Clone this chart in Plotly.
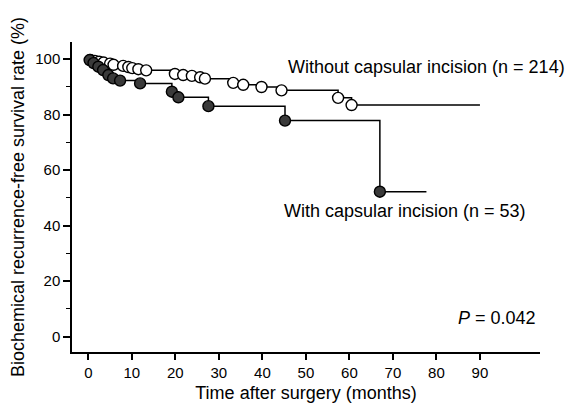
import plotly.graph_objects as go

# Without capsular incision (n = 214): event times (months) and survival (%)
open_t = [0.5, 1.5, 2.5, 3.5, 5.0, 5.8, 8.0, 9.2, 10.1, 11.5, 13.3,
          19.9, 21.8, 23.8, 25.7, 26.8, 33.3, 35.6, 39.8, 44.4, 57.4, 60.5]
open_v = [99.6, 99.3, 99.0, 98.7, 98.3, 97.9, 97.5, 97.1, 96.7, 96.3, 95.9,
          94.6, 94.2, 93.9, 93.4, 92.9, 91.4, 90.7, 89.9, 88.7, 86.0, 83.4]
open_end = 90.0

# With capsular incision (n = 53)
fill_t = [0.3, 1.2, 2.3, 3.4, 4.6, 5.7, 7.3, 11.9, 19.2, 20.7, 27.6, 45.2, 67.0]
fill_v = [99.6, 98.5, 97.2, 96.0, 94.2, 93.0, 92.2, 91.2, 88.2, 86.2, 83.0, 77.8, 52.2]
fill_end = 77.7

x_ticks = [0, 10, 20, 30, 40, 50, 60, 70, 80, 90]
y_ticks = [0, 20, 40, 60, 80, 100]

FONT = "Liberation Sans, Arial, sans-serif"

fig = go.Figure()

def add_curve(t, v, end, filled):
    xs = [0] + t + [end]
    ys = [100] + v + [v[-1]]
    fig.add_trace(go.Scatter(x=xs, y=ys, mode="lines", line_shape="hv",
                             line=dict(color="black", width=1.5),
                             hoverinfo="skip", showlegend=False))
    fig.add_trace(go.Scatter(
        x=t, y=v, mode="markers", showlegend=False,
        marker=dict(size=11, symbol="circle",
                    color="#3a3a3a" if filled else "white",
                    line=dict(color="black", width=1.4))))

add_curve(open_t, open_v, open_end, False)
add_curve(fill_t, fill_v, fill_end, True)

fig.add_annotation(x=45.4, y=97.1, xref="x", yref="y", xanchor="left",
                   yanchor="middle", showarrow=False,
                   text="Without capsular incision (n = 214)",
                   font=dict(size=18, color="black", family=FONT))
fig.add_annotation(x=44.4, y=45.3, xref="x", yref="y", xanchor="left",
                   yanchor="middle", showarrow=False,
                   text="With capsular incision (n = 53)",
                   font=dict(size=18, color="black", family=FONT))
fig.add_annotation(x=84.6, y=6.7, xref="x", yref="y", xanchor="left",
                   yanchor="middle", showarrow=False,
                   text="<i>P</i> = 0.042",
                   font=dict(size=18, color="black", family=FONT))

fig.update_layout(
    width=568, height=406,
    margin=dict(l=72, r=28, t=42, b=54),
    paper_bgcolor="white", plot_bgcolor="white",
    font=dict(family=FONT, color="black"),
)
fig.update_xaxes(range=[-3.75, 103.8], tickvals=x_ticks,
                 ticktext=[str(v) for v in x_ticks], automargin=False,
                 showgrid=False, zeroline=False, showline=True,
                 linecolor="black", linewidth=1.5, ticks="outside",
                 ticklen=6, tickwidth=1.5, tickcolor="black",
                 tickfont=dict(size=15, family=FONT),
                 title=dict(text="Time after surgery (months)",
                            font=dict(size=18, family=FONT), standoff=7))
fig.update_yaxes(range=[-5.5, 106.1], tickvals=y_ticks, automargin=False,
                 showgrid=False, zeroline=False, showline=True,
                 linecolor="black", linewidth=1.5, ticks="outside",
                 ticklen=7, tickwidth=1.5, tickcolor="black",
                 tickfont=dict(size=15, family=FONT),
                 minor=dict(tickvals=[10, 30, 50, 70, 90], ticks="outside",
                            ticklen=4, tickwidth=1.2, tickcolor="black"),
                 title=dict(text="Biochemical recurrence-free survival rate (%)",
                            font=dict(size=18, family=FONT), standoff=6))

fig.write_html("out.html")
